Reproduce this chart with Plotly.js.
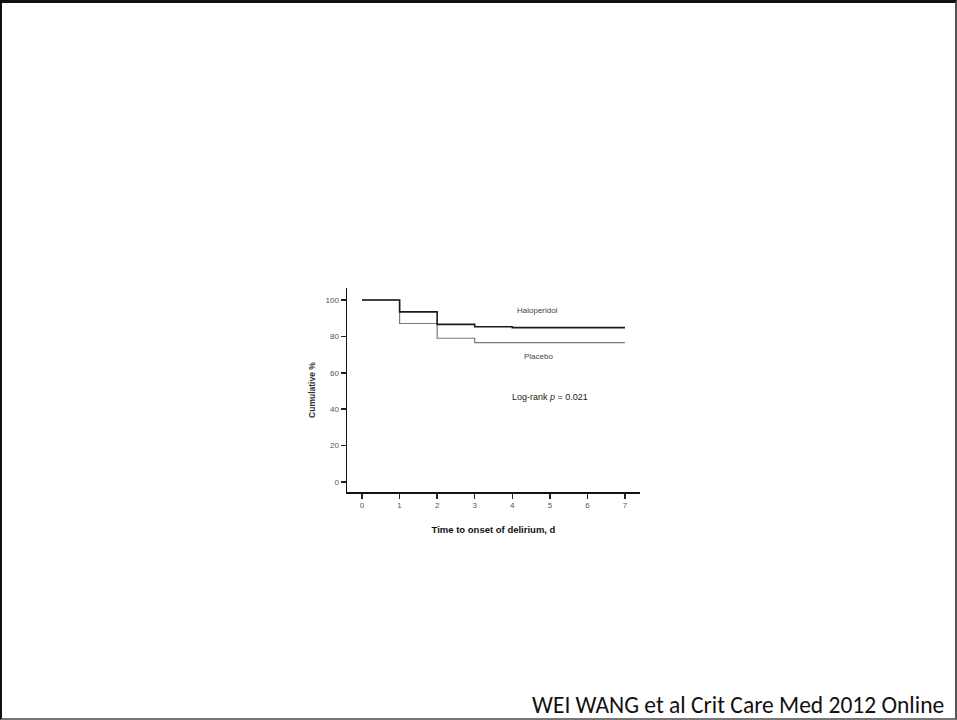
<!DOCTYPE html>
<html>
<head>
<meta charset="utf-8">
<script src="https://cdn.plot.ly/plotly-3.0.1.min.js"></script>
<style>
  html, body { margin: 0; padding: 0; background: #fff; }
  #wrap { position: relative; width: 957px; height: 720px; }
  #chart { width: 957px; height: 720px; }
  #frame { position: absolute; left: 0; top: 0; width: 957px; height: 720px; box-sizing: border-box;
           border-top: 3px solid #111; border-left: 2px solid #111; border-right: 2px solid #555; border-bottom: 2px solid #777;
           pointer-events: none; }
</style>
</head>
<body>
<div id="wrap">
  <div id="chart"></div>
  <div id="frame"></div>
</div>
<script>
// Days
var haloDays = [0, 1, 2, 3, 4, 7];
var haloPct  = [100, 93.5, 86.6, 85.3, 84.8, 84.8];
var placeboDays = [0, 1, 2, 3, 7];
var placeboPct  = [100, 87.1, 79.0, 76.6, 76.6];
var xTicks = [0, 1, 2, 3, 4, 5, 6, 7];
var yTicks = [0, 20, 40, 60, 80, 100];
var seriesNames = ["Haloperidol", "Placebo"];
var pText = "Log-rank <i>p</i> = 0.021";
var footer = "WEI WANG et al Crit Care Med 2012 Online";

var traces = [
  {
    x: placeboDays, y: placeboPct, name: seriesNames[1], type: "scatter", mode: "lines",
    line: { shape: "hv", color: "#7a7a7a", width: 1.2 }
  },
  {
    x: haloDays, y: haloPct, name: seriesNames[0], type: "scatter", mode: "lines",
    line: { shape: "hv", color: "#1a1a1a", width: 1.6 }
  }
];

var tickFont = { family: "Liberation Sans, Arial, sans-serif", size: 8, color: "#555" };

var layout = {
  width: 957, height: 720,
  margin: { l: 347, r: 317, t: 288, b: 228, pad: 0 },
  paper_bgcolor: "#fff", plot_bgcolor: "#fff",
  showlegend: false,
  xaxis: {
    range: [-0.4, 7.4], tickvals: xTicks, ticktext: xTicks.map(String),
    showgrid: false, zeroline: false, showline: true, linecolor: "#111", linewidth: 1.5,
    ticks: "outside", ticklen: 5, tickwidth: 1.5, tickcolor: "#222",
    tickfont: tickFont,
    title: { text: "<b>Time to onset of delirium, d</b>", standoff: 17,
             font: { family: "Liberation Sans, Arial, sans-serif", size: 9.5, color: "#111" } }
  },
  yaxis: {
    range: [-5.5, 106.6], tickvals: yTicks, ticktext: yTicks.map(String),
    showgrid: false, zeroline: false, showline: true, linecolor: "#111", linewidth: 1.5,
    ticks: "outside", ticklen: 5, tickwidth: 1.5, tickcolor: "#222",
    tickfont: tickFont,
    title: { text: "<b>Cumulative %</b>", standoff: 8,
             font: { family: "Liberation Sans, Arial, sans-serif", size: 8.5, color: "#333" } }
  },
  annotations: [
    { x: 4.66, y: 94, xref: "x", yref: "y", text: seriesNames[0], showarrow: false,
      font: { family: "Liberation Sans, Arial, sans-serif", size: 8, color: "#444" } },
    { x: 4.7, y: 69.2, xref: "x", yref: "y", text: seriesNames[1], showarrow: false,
      font: { family: "Liberation Sans, Arial, sans-serif", size: 8, color: "#444" } },
    { x: 5.0, y: 46.7, xref: "x", yref: "y", text: pText, showarrow: false,
      font: { family: "Liberation Sans, Arial, sans-serif", size: 9, color: "#222" } },
    { x: 2.045, y: -1.044, xref: "paper", yref: "paper", text: footer, showarrow: false,
      xanchor: "right", yanchor: "middle",
      font: { family: "Carlito, Liberation Sans, Arial, sans-serif", size: 23.5, color: "#111" } }
  ]
};

Plotly.newPlot("chart", traces, layout, { displayModeBar: false, staticPlot: true });
</script>
</body>
</html>
